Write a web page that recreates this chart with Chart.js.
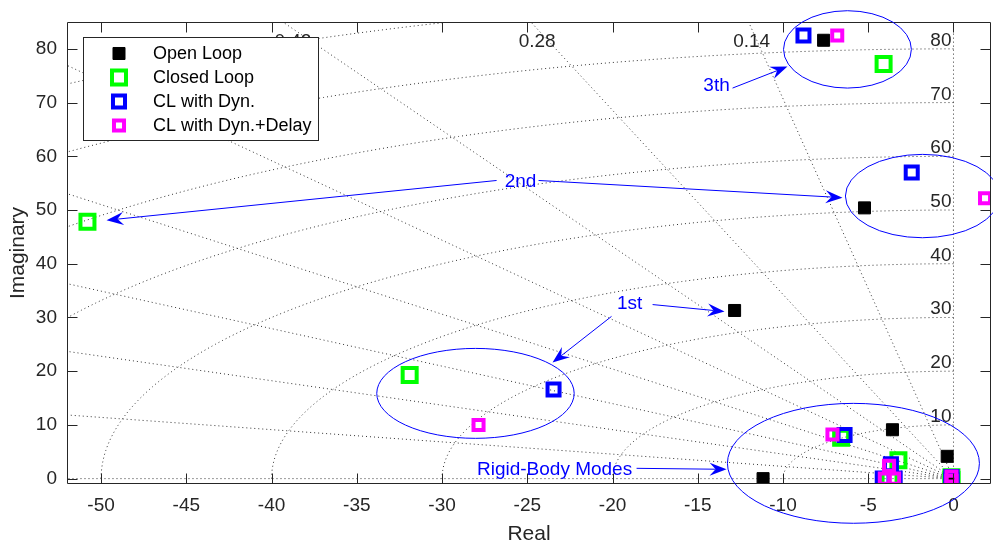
<!DOCTYPE html>
<html>
<head>
<meta charset="utf-8">
<script src="https://cdn.jsdelivr.net/npm/chart.js@4.4.1/dist/chart.umd.min.js"></script>
<style>
  html, body { margin: 0; padding: 0; background: #fff; }
  #wrap { width: 993px; height: 545px; }
</style>
</head>
<body>
<div id="wrap"><canvas id="pzmap" width="993" height="545"></canvas></div>
<script>
// Pole locations, real and imaginary parts
const openLoopRe = [-7.62, -5.22, -12.84, -3.58, -0.37, -11.17, -0.12];
const openLoopIm = [81.6, 50.4, 31.3, 9.1, 4.15, 0, 0];

const closedLoopRe = [-4.1, -50.8, -31.9, -6.59, -3.23, -3.75, -0.12, -0.12];
const closedLoopIm = [77.2, 47.8, 19.3, 7.6, 3.4, -0.3, 0.25, -0.25];

const dynRe = [-8.8, -2.45, -23.46, -6.39, -3.67, -4.15, -3.45, -0.12, -0.12];
const dynIm = [82.5, 57.0, 16.6, 8.1, 2.66, 0, 0, 0.3, -0.3];

const delayRe = [-6.82, 1.85, -27.86, -7.1, -3.78, -4.03, -3.48, -0.12, -0.12];
const delayIm = [82.5, 52.2, 10.0, 8.2, 2.4, 0, 0, 0.4, -0.4];

const xTicks = [-50, -45, -40, -35, -30, -25, -20, -15, -10, -5, 0];
const yTicks = [0, 10, 20, 30, 40, 50, 60, 70, 80];

// s-plane grid: constant damping rays and natural frequency arcs
const dampingGrid = [0.14, 0.28, 0.42, 0.56, 0.7, 0.82, 0.91, 0.975];
const freqGrid = [10, 20, 30, 40, 50, 60, 70, 80, 90];

// mode groups (ellipses in data units), their labels and arrows
const modeEllipses = [
  { re: -6.22, im: 79.9, rRe: 3.75, rIm: 7.2 },
  { re: -1.82, im: 52.6, rRe: 4.52, rIm: 7.76 },
  { re: -28.04, im: 15.87, rRe: 5.79, rIm: 8.37 },
  { re: -5.87, im: 2.85, rRe: 7.39, rIm: 11.16 }
];
const modeLabels = [
  { text: '3th', re: -13.9, im: 73.2 },
  { text: '2nd', re: -25.4, im: 55.3 },
  { text: '1st', re: -19.0, im: 32.6 },
  { text: 'Rigid-Body Modes', re: -23.4, im: 1.73 }
];
const modeArrows = [
  { from: [-12.96, 72.7], to: [-9.74, 76.7] },
  { from: [-26.8, 55.5], to: [-49.68, 48.1] },
  { from: [-24.34, 55.5], to: [-6.51, 52.3] },
  { from: [-17.65, 32.4], to: [-13.43, 31.1] },
  { from: [-20.06, 30.2], to: [-23.52, 21.6] },
  { from: [-18.59, 1.92], to: [-13.31, 1.73] }
];

const FONT = '"Liberation Sans", Arial, Helvetica, sans-serif';
const INK = '#262626';
const NOTE = '#0000ff';

function toPoints(re, im) {
  return re.map((r, i) => ({ x: r, y: im[i] }));
}

// dotted damping / frequency grid with its labels
const sgridPlugin = {
  id: 'sgrid',
  beforeDatasetsDraw(chart) {
    const { ctx, chartArea: a, scales: { x, y } } = chart;
    const P = (re, im) => [x.getPixelForValue(re), y.getPixelForValue(im)];
    const [x0, y0] = P(0, 0);

    ctx.save();
    ctx.beginPath();
    ctx.rect(a.left, a.top, a.right - a.left, a.bottom - a.top);
    ctx.clip();
    ctx.strokeStyle = '#333333';
    ctx.lineWidth = 1;
    ctx.setLineDash([1, 3]);

    const R = 500;
    [...dampingGrid, 1, 0].forEach(z => {
      const [xe, ye] = P(-z * R, Math.sqrt(1 - z * z) * R);
      ctx.beginPath();
      ctx.moveTo(x0, y0);
      ctx.lineTo(xe, ye);
      ctx.stroke();
    });

    freqGrid.forEach(wn => {
      ctx.beginPath();
      for (let k = 0; k <= 180; k++) {
        const th = Math.PI / 2 + (Math.PI / 2) * k / 180;
        const [px, py] = P(wn * Math.cos(th), wn * Math.sin(th));
        if (k === 0) ctx.moveTo(px, py); else ctx.lineTo(px, py);
      }
      ctx.stroke();
    });
    ctx.restore();

    ctx.save();
    ctx.fillStyle = INK;
    ctx.font = '19px ' + FONT;
    // damping labels along the top edge
    ctx.textAlign = 'center';
    ctx.textBaseline = 'middle';
    dampingGrid.forEach(z => {
      const slope = z / Math.sqrt(1 - z * z);
      const reTop = -y.max * 0.985 * slope;
      if (reTop < x.min) return;
      ctx.fillText(String(z), x.getPixelForValue(reTop), a.top + 20);
    });
    // natural frequency labels on the imaginary axis
    ctx.textAlign = 'right';
    ctx.textBaseline = 'alphabetic';
    freqGrid.forEach(wn => {
      if (wn > y.max - 2) return;
      ctx.fillText(String(wn), x0 - 2, y.getPixelForValue(wn) - 3);
    });
    ctx.restore();
  }
};

// axes box with inward ticks on all four sides
const framePlugin = {
  id: 'frame',
  afterDatasetsDraw(chart) {
    const { ctx, chartArea: a, scales: { x, y } } = chart;
    const L = Math.round(a.left) + 0.5, R = Math.round(a.right) - 0.5;
    const T = Math.round(a.top) + 0.5, B = Math.round(a.bottom) - 0.5;
    const tl = 10;
    ctx.save();
    ctx.strokeStyle = INK;
    ctx.lineWidth = 1;
    ctx.beginPath();
    ctx.rect(L, T, R - L, B - T);
    xTicks.forEach(v => {
      const px = Math.round(x.getPixelForValue(v)) + 0.5;
      ctx.moveTo(px, B); ctx.lineTo(px, B - tl);
      ctx.moveTo(px, T); ctx.lineTo(px, T + tl);
    });
    yTicks.forEach(v => {
      const py = Math.round(y.getPixelForValue(v)) + 0.5;
      ctx.moveTo(L, py); ctx.lineTo(L + tl, py);
      ctx.moveTo(R, py); ctx.lineTo(R - tl, py);
    });
    ctx.stroke();
    ctx.restore();
  }
};

// boxed legend in the upper left corner of the plot
const boxLegendPlugin = {
  id: 'boxLegend',
  afterDatasetsDraw(chart) {
    const { ctx } = chart;
    const left = 83.5, top = 37.5, w = 235, h = 103;
    ctx.save();
    ctx.fillStyle = '#fff';
    ctx.fillRect(left, top, w, h);
    ctx.strokeStyle = INK;
    ctx.lineWidth = 1;
    ctx.strokeRect(left, top, w, h);
    ctx.font = '18px ' + FONT;
    ctx.textBaseline = 'middle';
    ctx.textAlign = 'left';
    chart.data.datasets.forEach((ds, i) => {
      const cy = top + 16 + i * 24;
      const cx = 119;
      const half = ds.pointRadius * Math.SQRT1_2;
      ctx.lineWidth = ds.borderWidth;
      ctx.strokeStyle = ds.borderColor;
      ctx.fillStyle = ds.backgroundColor;
      ctx.beginPath();
      ctx.rect(cx - half, cy - half, 2 * half, 2 * half);
      ctx.fill();
      ctx.stroke();
      ctx.fillStyle = '#000';
      ctx.fillText(ds.label, 153, cy + 1);
    });
    ctx.restore();
  }
};

// blue ellipses, arrows and mode labels
const modeNotesPlugin = {
  id: 'modeNotes',
  afterDraw(chart) {
    const { ctx, scales: { x, y } } = chart;
    const P = (re, im) => [x.getPixelForValue(re), y.getPixelForValue(im)];
    ctx.save();
    ctx.strokeStyle = NOTE;
    ctx.fillStyle = NOTE;
    ctx.lineWidth = 1;

    modeEllipses.forEach(e => {
      const [cx, cy] = P(e.re, e.im);
      const rx = Math.abs(x.getPixelForValue(e.re + e.rRe) - cx);
      const ry = Math.abs(y.getPixelForValue(e.im + e.rIm) - cy);
      ctx.beginPath();
      ctx.ellipse(cx, cy, rx, ry, 0, 0, Math.PI * 2);
      ctx.stroke();
    });

    modeArrows.forEach(ar => {
      const [sx, sy] = P(ar.from[0], ar.from[1]);
      const [tx, ty] = P(ar.to[0], ar.to[1]);
      const ang = Math.atan2(ty - sy, tx - sx);
      const c = Math.cos(ang), s = Math.sin(ang);
      const len = 17, notch = 11, hw = 6.5;
      ctx.beginPath();
      ctx.moveTo(sx, sy);
      ctx.lineTo(tx - notch * c, ty - notch * s);
      ctx.stroke();
      ctx.beginPath();
      ctx.moveTo(tx, ty);
      ctx.lineTo(tx - len * c - hw * s, ty - len * s + hw * c);
      ctx.lineTo(tx - notch * c, ty - notch * s);
      ctx.lineTo(tx - len * c + hw * s, ty - len * s - hw * c);
      ctx.closePath();
      ctx.fill();
    });

    ctx.font = '19px ' + FONT;
    ctx.textAlign = 'center';
    ctx.textBaseline = 'middle';
    modeLabels.forEach(l => {
      const [lx, ly] = P(l.re, l.im);
      ctx.fillText(l.text, lx, ly);
    });
    ctx.restore();
  }
};

new Chart(document.getElementById('pzmap'), {
  type: 'scatter',
  data: {
    datasets: [
      {
        label: 'Open Loop',
        data: toPoints(openLoopRe, openLoopIm),
        pointStyle: 'rect', pointRadius: 8.5, borderWidth: 1,
        backgroundColor: '#000000', borderColor: '#000000', order: 4
      },
      {
        label: 'Closed Loop',
        data: toPoints(closedLoopRe, closedLoopIm),
        pointStyle: 'rect', pointRadius: 9.9, borderWidth: 4,
        backgroundColor: 'rgba(0,0,0,0)', borderColor: '#00ff00', order: 3
      },
      {
        label: 'CL with Dyn.',
        data: toPoints(dynRe, dynIm),
        pointStyle: 'rect', pointRadius: 8.5, borderWidth: 4,
        backgroundColor: 'rgba(0,0,0,0)', borderColor: '#0000ff', order: 2
      },
      {
        label: 'CL with Dyn.+Delay',
        data: toPoints(delayRe, delayIm),
        pointStyle: 'rect', pointRadius: 7.1, borderWidth: 4,
        backgroundColor: 'rgba(0,0,0,0)', borderColor: '#ff00ff', order: 1
      }
    ]
  },
  options: {
    responsive: false,
    animation: false,
    devicePixelRatio: 1,
    events: [],
    layout: { autoPadding: false, padding: { top: 22, right: 2, left: 0, bottom: 0 } },
    plugins: {
      legend: { display: false },
      tooltip: { enabled: false }
    },
    scales: {
      x: {
        type: 'linear',
        min: -52, max: 2.2,
        grid: { display: false, drawTicks: false },
        border: { display: false },
        afterBuildTicks: s => { s.ticks = xTicks.map(v => ({ value: v })); },
        afterFit: s => { s.height = 61; s.paddingLeft = 0; s.paddingRight = 0; },
        ticks: {
          color: INK, padding: 10, maxRotation: 0, autoSkip: false,
          font: { family: FONT, size: 19 },
          callback: v => String(v)
        },
        title: {
          display: true, text: 'Real', color: INK,
          font: { family: FONT, size: 21 }, padding: { top: 0, bottom: -2 }
        }
      },
      y: {
        type: 'linear',
        min: -1, max: 85,
        grid: { display: false, drawTicks: false },
        border: { display: false },
        afterBuildTicks: s => { s.ticks = yTicks.map(v => ({ value: v })); },
        afterFit: s => { s.width = 67; s.paddingTop = 0; s.paddingBottom = 0; },
        ticks: {
          color: INK, padding: 10, autoSkip: false,
          font: { family: FONT, size: 19 },
          callback: v => String(v)
        },
        title: {
          display: true, text: 'Imaginary', color: INK,
          font: { family: FONT, size: 21 }, padding: 6
        }
      }
    }
  },
  plugins: [sgridPlugin, framePlugin, boxLegendPlugin, modeNotesPlugin]
});
</script>
</body>
</html>
